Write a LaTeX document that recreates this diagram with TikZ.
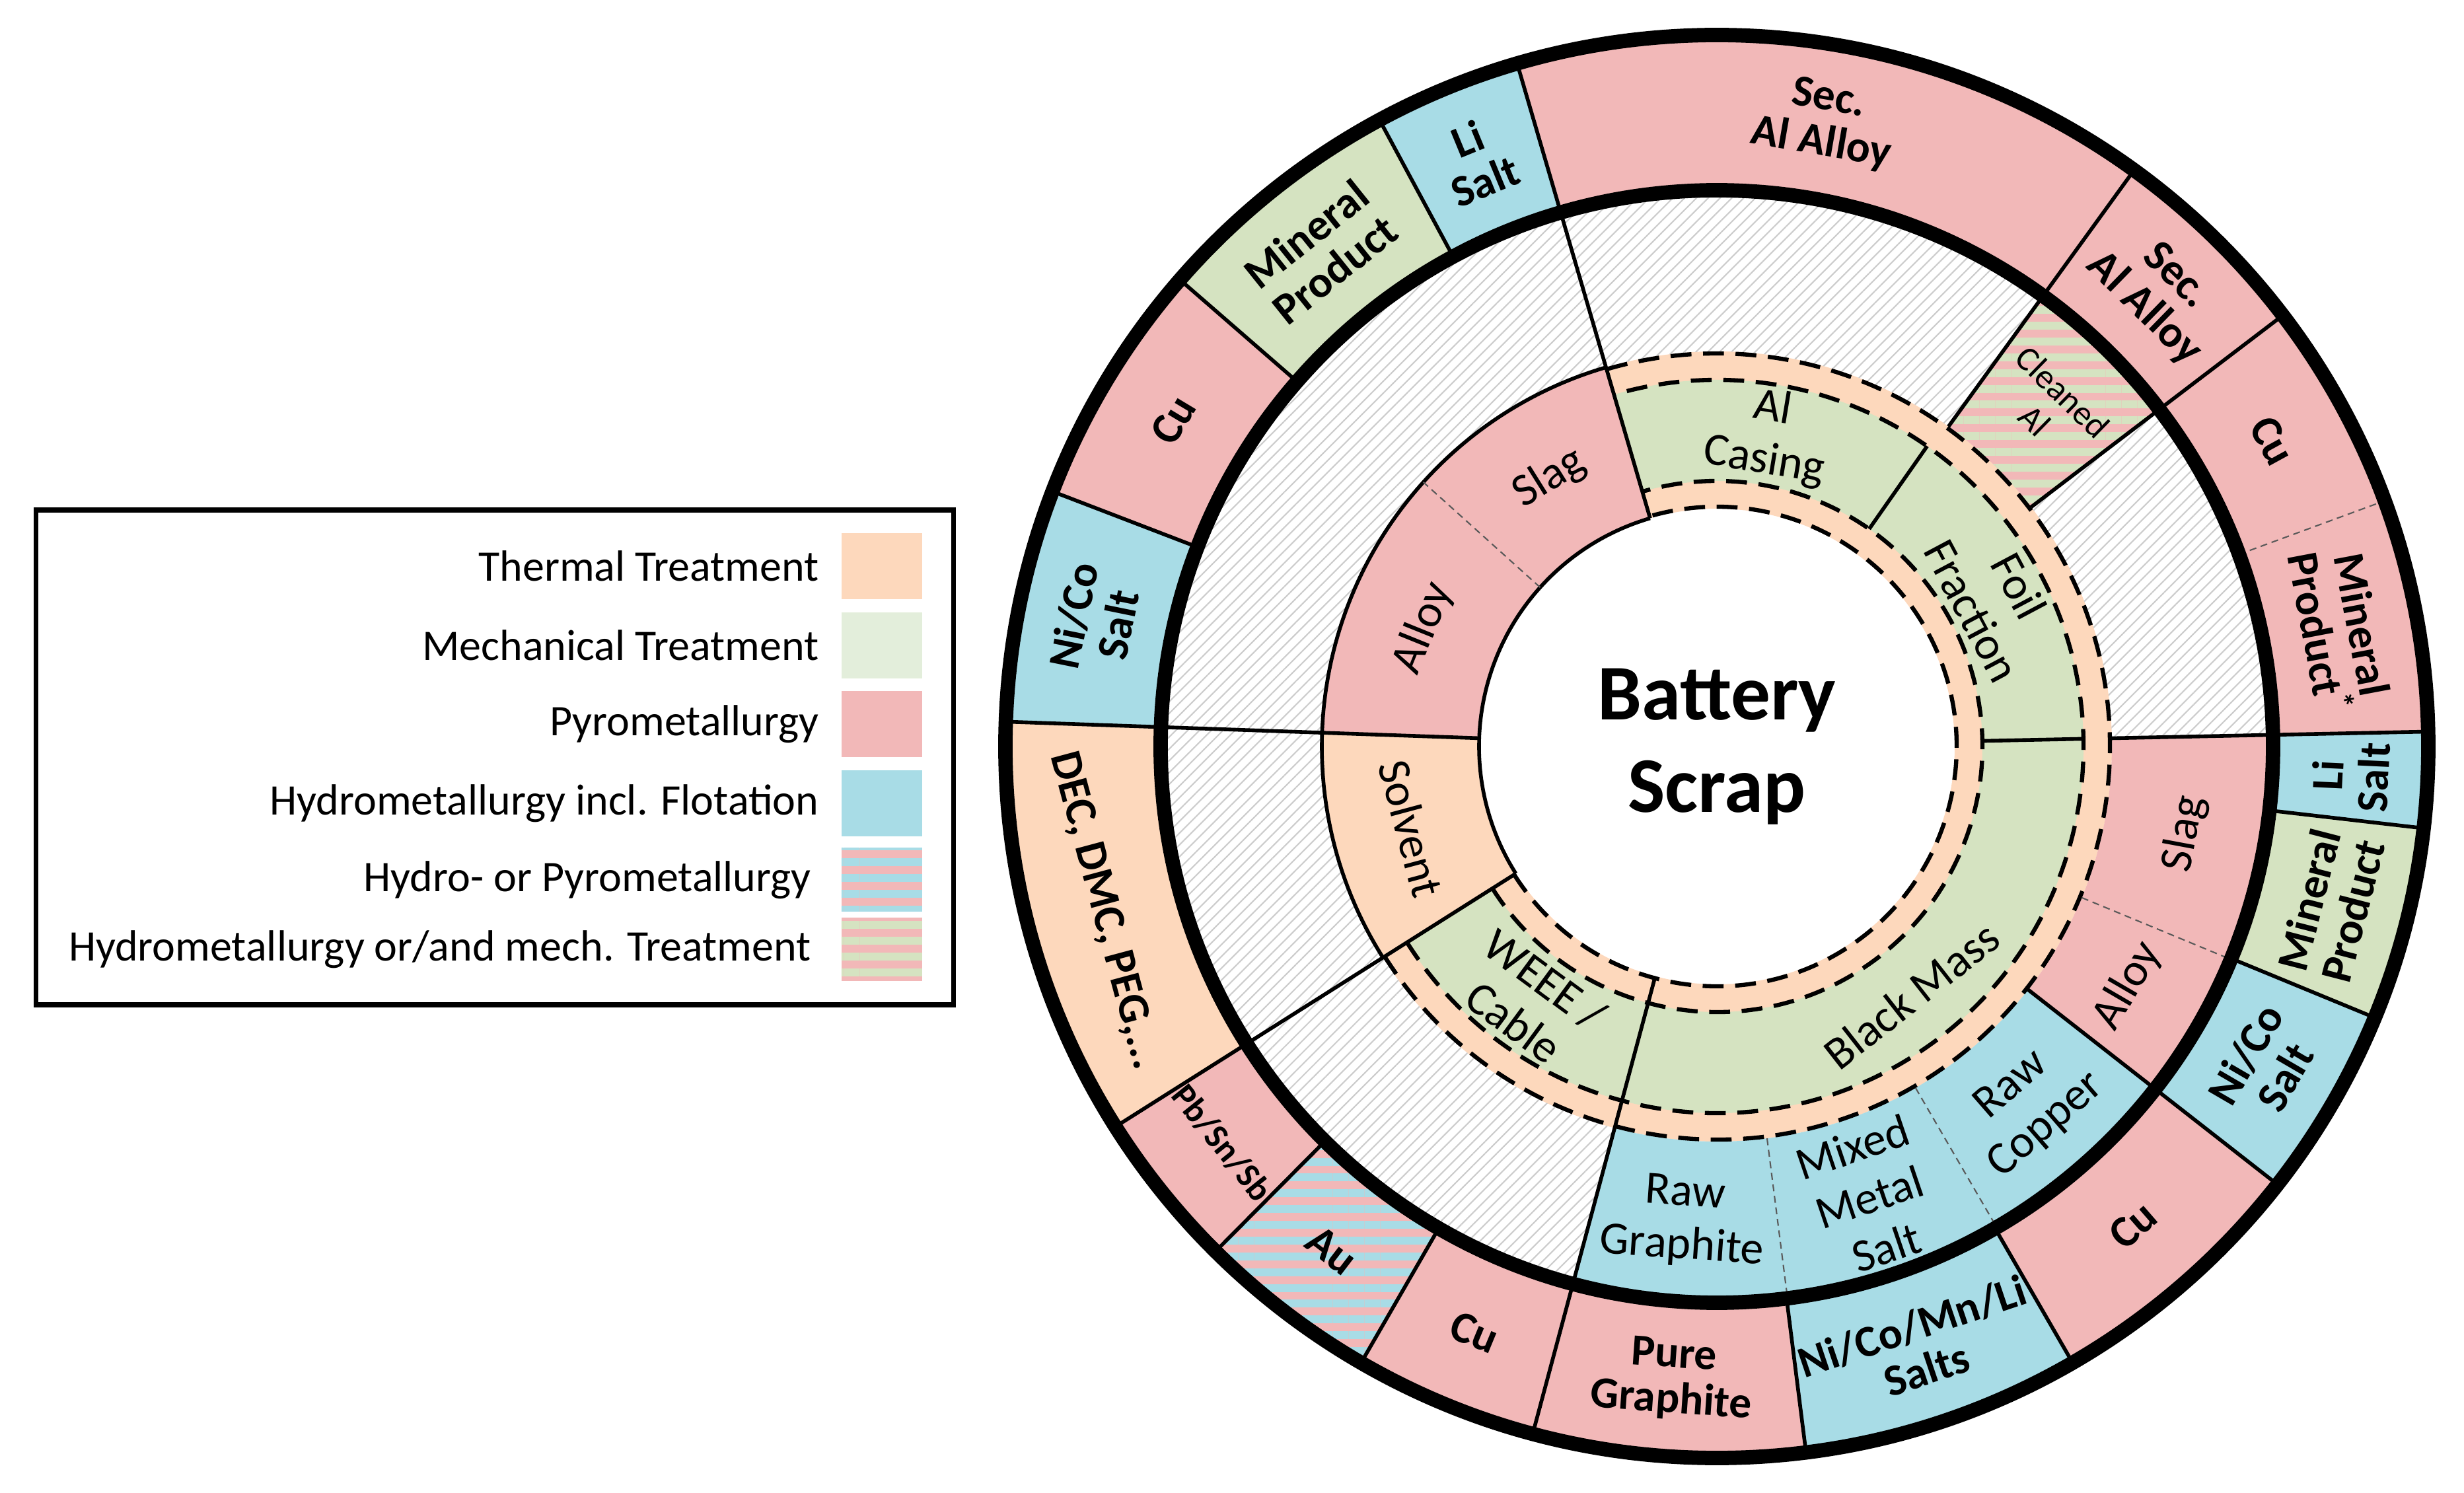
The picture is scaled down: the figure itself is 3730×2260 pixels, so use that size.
\documentclass[tikz,border=0pt]{standalone}
\usepackage{fontspec}
\setmainfont{Carlito}
\usetikzlibrary{patterns.meta}

\definecolor{thermC}{HTML}{FDD8BC}
\definecolor{mechC}{HTML}{D5E3C1}
\definecolor{mechL}{HTML}{E3EEDB}
\definecolor{pyroC}{HTML}{F2B8B8}
\definecolor{hydroC}{HTML}{A8DCE6}

% annular sector: [style]{start}{end}{inner}{outer}
\newcommand{\ringseg}[5][]{%
  \path[#1] (#2:#4) arc[start angle=#2, end angle=#3, radius=#4]
    -- (#3:#5) arc[start angle=#3, end angle=#2, radius=#5] -- cycle;}
% radial line: [style]{angle}{from}{to}
\newcommand{\spoke}[4][seg]{\draw[#1] (#2:#3) -- (#2:#4);}

\tikzset{
  therm/.style={fill=thermC},
  mech/.style={fill=mechC},
  mechl/.style={fill=mechL},
  pyro/.style={fill=pyroC},
  hydro/.style={fill=hydroC},
  hatch/.style={pattern={Lines[angle=45,distance=1.8pt,line width=0.3pt]}, pattern color=gray!40},
  stripeB/.style={preaction={fill=pyroC}, pattern={Lines[angle=0,distance=3.4pt,line width=1.7pt]}, pattern color=hydroC},
  stripeG/.style={preaction={fill=pyroC}, pattern={Lines[angle=0,distance=3.4pt,line width=1.7pt]}, pattern color=mechC},
  seg/.style={line width=0.8pt},
  sep/.style={line width=0.3pt, dash pattern=on 1.5pt off 1pt, gray!70!black},
  band/.style={line width=0.9pt, dash pattern=on 4.5pt off 2.5pt},
  rim/.style={line width=3.1pt},
  lab/.style={font=\fontsize{10}{11.4}\selectfont, align=center, inner sep=0pt},
  outl/.style={font=\bfseries\fontsize{9.6}{9.8}\selectfont, align=center, inner sep=0pt},
  leg/.style={font=\fontsize{9.4}{10}\selectfont, anchor=east, inner sep=0pt},
}

\begin{document}
\begin{tikzpicture}[x=0.005cm, y=0.005cm]
\useasboundingbox (-2599,-1130) rectangle (1131,1130);

% first ring
\ringseg[therm]{212.3}{466.3}{360}{598}
\ringseg[mech]{212.3}{466.3}{402}{555}
\ringseg[pyro]{106.3}{178}{360}{598}
\ringseg[therm]{178}{212.3}{360}{598}

% second ring
\ringseg[hatch]{54.1}{255}{598}{842}
\ringseg[hydro]{255}{322}{598}{842}
\ringseg[pyro]{322}{361.2}{598}{842}
\ringseg[hatch]{1.2}{37.3}{598}{842}
\ringseg[stripeG]{37.3}{54.1}{598}{842}

% outer ring
\ringseg[pyro]{1.2}{106.3}{842}{1077}
\ringseg[hydro]{106.3}{118.3}{842}{1077}
\ringseg[mech]{118.3}{139}{842}{1077}
\ringseg[pyro]{139}{159}{842}{1077}
\ringseg[hydro]{159}{178}{842}{1077}
\ringseg[therm]{178}{212.3}{842}{1077}
\ringseg[pyro]{212.3}{225.2}{842}{1077}
\ringseg[stripeB]{225.2}{240}{842}{1077}
\ringseg[pyro]{240}{277.2}{842}{1077}
\ringseg[hydro]{277.2}{300}{842}{1077}
\ringseg[pyro]{300}{322}{842}{1077}
\ringseg[hydro]{322}{337.6}{842}{1077}
\ringseg[mech]{337.6}{353.4}{842}{1077}
\ringseg[hydro]{353.4}{361.2}{842}{1077}

% borders
\draw[seg] (106.3:360) arc[start angle=106.3, end angle=212.3, radius=360];
\draw[seg] (106.3:598) arc[start angle=106.3, end angle=212.3, radius=598];
\foreach \r in {363,402,555,595}
  {\draw[band] (212.3:\r) arc[start angle=212.3, end angle=466.3, radius=\r];}

\spoke{106.3}{360}{1077}
\spoke{178}{360}{1077}
\spoke{212.3}{360}{1077}
\spoke{255}{360}{1077}
\spoke{1.2}{402}{555}
\spoke{1.2}{598}{1077}
\spoke{55}{402}{555}
\spoke{322}{598}{1077}
\spoke{37.3}{598}{1077}
\spoke{54.1}{598}{1077}
\foreach \a in {277.2,300,337.6,353.4,118.3,139,159,225.2,240}
  {\spoke{\a}{842}{1077}}
\spoke[sep]{138}{360}{598}
\spoke[sep]{277.3}{598}{842}
\spoke[sep]{300.2}{598}{842}
\spoke[sep]{337.5}{598}{842}
\spoke[sep]{20.2}{842}{1077}

\draw[rim] (0,0) circle[radius=842];
\draw[rim] (0,0) circle[radius=1077];

% centre
\node[font=\bfseries\fontsize{17}{20}\selectfont, align=center] (scrap) at (0,0) {Battery\\Scrap};

% first ring labels
\node[lab, rotate=32]    (slag1)  at (122:479)   {Slag};
\node[lab, rotate=68]    (alloy1) at (158:479)   {Alloy};
\node[lab, rotate=-75]   (solv)   at (195:479)   {Solvent};
\node[lab, rotate=-36.4] (weee)   at (233.6:478) {WEEE /\\Cable};
\node[lab, rotate=38]    (bmass)  at (308:478)   {Black Mass};
\node[lab, rotate=-62]   (foil)   at (28:478)    {Foil\\Fraction};
\node[lab, rotate=-9.4]  (alcas)  at (80.6:478)  {Al\\Casing};

% second ring labels
\node[lab, rotate=-44.3, font=\fontsize{7.5}{8.5}\selectfont] (clal) at (45.7:720) {Cleaned\\Al};
\node[lab, rotate=79.4]  (slag2)  at (349.4:720) {Slag};
\node[lab, rotate=59.8]  (alloy2) at (329.8:720) {Alloy};
\node[lab, rotate=41]    (rawcu)  at (311:720)   {Raw\\Copper};
\node[lab, rotate=18.7]  (mixed)  at (288.7:720) {Mixed\\Metal\\Salt};
\node[lab, rotate=-4]    (rawgr)  at (266:720)   {Raw\\Graphite};

% outer ring labels
\node[outl, rotate=-9.8]  (secal)  at (80.2:960)  {Sec.\\Al Alloy};
\node[outl, rotate=22.3]  (lisA)   at (112.3:960) {Li\\Salt};
\node[outl, rotate=38.7]  (minA)   at (128.7:960) {Mineral\\Product};
\node[outl, rotate=59]    (cuA)    at (149:960)   {Cu};
\node[outl, rotate=78.5]  (nicoA)  at (168.5:960) {Ni/Co\\Salt};
\node[outl, rotate=-75]   (dec)    at (195:960)   {DEC, DMC, PEG,...};
\node[outl, rotate=-51.3, font=\bfseries\fontsize{7.5}{8}\selectfont] (pbsn) at (218.7:960) {Pb/Sn/Sb};
\node[outl, rotate=-37.4] (au)     at (232.6:960) {Au};
\node[outl, rotate=-22.5] (cuB)    at (247.5:960) {Cu};
\node[outl, rotate=-4]    (puregr) at (266:960)   {Pure\\Graphite};
\node[outl, rotate=18.6]  (salts)  at (288.6:960) {Ni/Co/Mn/Li\\Salts};
\node[outl, rotate=41]    (cuC)    at (311:960)   {Cu};
\node[outl, rotate=59.8]  (nicoB)  at (329.8:960) {Ni/Co\\Salt};
\node[outl, rotate=75.5]  (minB)   at (345.5:960) {Mineral\\Product};
\node[outl, rotate=87.3]  (lisB)   at (357.3:960) {Li\\Salt};
\node[outl, rotate=-79.3] (minC)   at (10.7:960)  {Mineral\\Product\textsuperscript{*}};
\node[outl, rotate=-61.3] (cuD)    at (28.8:960)  {Cu};
\node[outl, rotate=-44.3] (secalB) at (45.7:960)  {Sec.\\Al Alloy};

% legend
\draw[line width=1pt] (-2544,358) rectangle (-1155,-391);
\path[therm]   (-1325,223)  rectangle (-1203,323);
\path[mechl]   (-1325,103)  rectangle (-1203,203);
\path[pyro]    (-1325,-16)  rectangle (-1203,84);
\path[hydro]   (-1325,-136) rectangle (-1203,-36);
\path[stripeB] (-1325,-250) rectangle (-1203,-154);
\path[stripeG] (-1325,-355) rectangle (-1203,-259);
\node[leg] (lthe) at (-1358,273)  {Thermal Treatment};
\node[leg] (lmec) at (-1358,153)  {Mechanical Treatment};
\node[leg] (lpyr) at (-1358,34)   {Pyrometallurgy};
\node[leg] (lhyd) at (-1358,-86)  {Hydrometallurgy incl. Flotation};
\node[leg] (lhp)  at (-1370,-202) {Hydro- or Pyrometallurgy};
\node[leg] (lhm)  at (-1370,-307) {Hydrometallurgy or/and mech. Treatment};
\end{tikzpicture}
\end{document}
